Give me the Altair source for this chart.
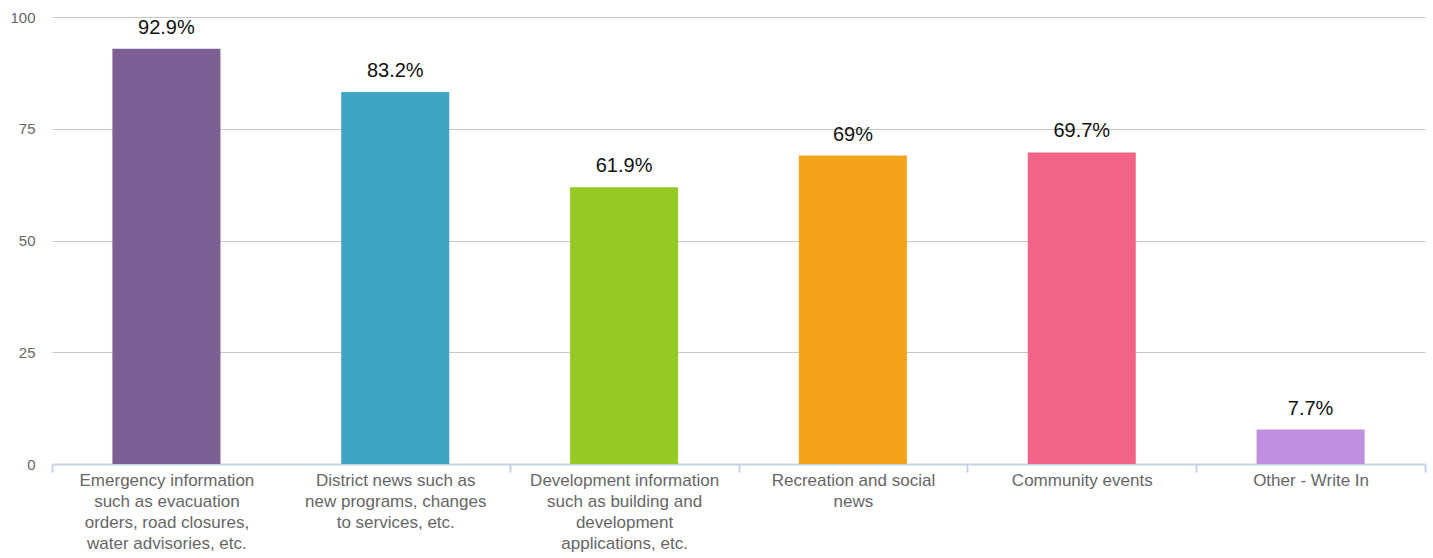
import altair as alt
import pandas as pd

categories = [
    "Emergency information such as evacuation orders, road closures, water advisories, etc.",
    "District news such as new programs, changes to services, etc.",
    "Development information such as building and development applications, etc.",
    "Recreation and social news",
    "Community events",
    "Other - Write In",
]
label_lines = [
    ["Emergency information", "such as evacuation", "orders, road closures,", "water advisories, etc."],
    ["District news such as", "new programs, changes", "to services, etc."],
    ["Development information", "such as building and", "development", "applications, etc."],
    ["Recreation and social", "news"],
    ["Community events"],
    ["Other - Write In"],
]
values = [92.9, 83.2, 61.9, 69, 69.7, 7.7]
value_labels = ["92.9%", "83.2%", "61.9%", "69%", "69.7%", "7.7%"]
colors = ["#7c6094", "#40a4c3", "#97c925", "#f4a41b", "#f16487", "#be90df"]

df = pd.DataFrame({
    "cat": categories,
    "value": values,
    "vlabel": value_labels,
    "color": colors,
})

mapping = "{" + ",".join(
    '"' + c.replace('"', '\\"') + '":[' + ",".join('"' + l + '"' for l in ls) + "]"
    for c, ls in zip(categories, label_lines)
) + "}"
label_expr = mapping + "[datum.label]"

FONT = "Liberation Sans"

x = alt.X(
    "cat:N",
    sort=categories,
    scale=alt.Scale(paddingInner=0, paddingOuter=0),
    axis=alt.Axis(
        title=None,
        labelAngle=0,
        labelExpr=label_expr,
        labelFont=FONT,
        labelFontSize=17,
        labelColor="#666666",
        labelLineHeight=21,
        labelPadding=0,
        labelLimit=300,
        tickBand="extent",
        tickColor="#c4d4e6",
        tickOpacity={
            "condition": {
                "test": "datum.index === 0 && !datum.extra",
                "value": 0,
            },
            "value": 1,
        },
        tickSize=8,
        tickWidth=2,
        domainColor="#c4d4e6",
        domainWidth=2,
        grid=False,
        labelBound=False,
        labelOverlap=False,
    ),
)
y = alt.Y(
    "value:Q",
    scale=alt.Scale(domain=[0, 100], nice=False),
    axis=alt.Axis(
        title=None,
        values=[0, 25, 50, 75, 100],
        labelFont=FONT,
        labelFontSize=15,
        labelColor="#666666",
        labelPadding=17,
        domain=False,
        ticks=False,
        gridColor="#c8c8c8",
        gridWidth=1,
    ),
)

bars = alt.Chart(df).mark_bar(width=alt.RelativeBandSize(0.472)).encode(
    x=x,
    y=y,
    color=alt.Color("color:N", scale=None),
)
text = alt.Chart(df).mark_text(
    font=FONT, fontSize=20, color="#111111", baseline="alphabetic", dy=-15
).encode(
    x=alt.X("cat:N", sort=categories),
    y="value:Q",
    text="vlabel:N",
)

chart = (bars + text).properties(
    width=1373,
    height=447,
    padding={"left": 52, "top": 17, "right": 8, "bottom": 94},
    autosize=alt.AutoSizeParams(type="none"),
).configure_view(stroke=None)

chart.save("out.html", embed_options={"renderer": "svg", "actions": False})
